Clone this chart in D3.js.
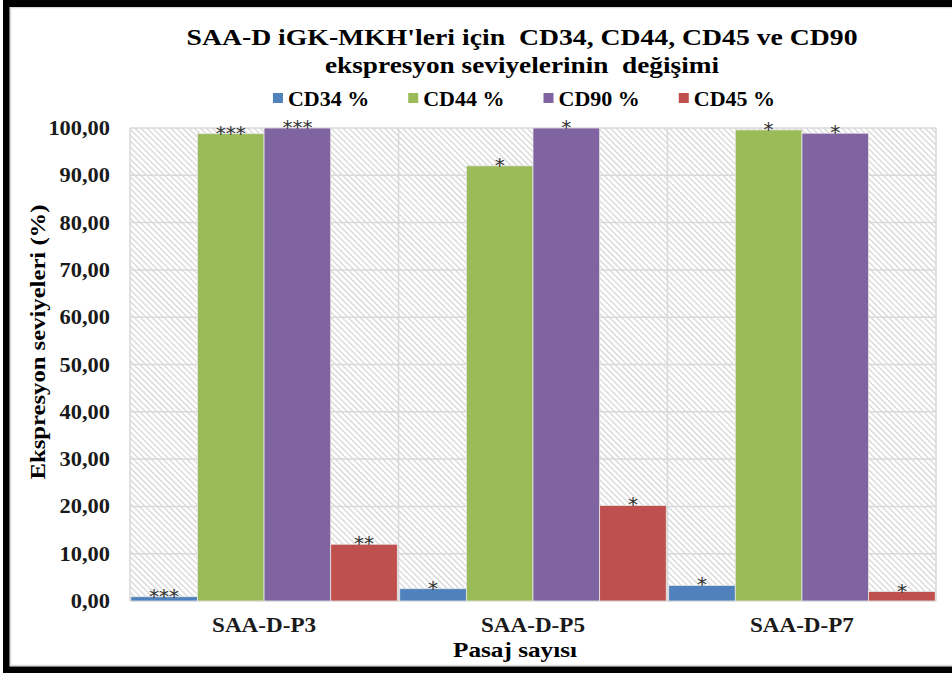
<!DOCTYPE html>
<html>
<head>
<meta charset="utf-8">
<script src="https://cdn.jsdelivr.net/npm/d3@7"></script>
<style>
  html, body { margin: 0; padding: 0; background: #fff; }
  svg { display: block; }
</style>
</head>
<body>
<svg id="chart" width="952" height="673" font-family="Liberation Serif, Times New Roman, serif" font-weight="bold"></svg>
<script>
// Passage groups on the x axis
const categories = ["SAA-D-P3", "SAA-D-P5", "SAA-D-P7"];
// Marker series, in drawing order
const seriesNames = ["CD34 %", "CD44 %", "CD90 %", "CD45 %"];
const seriesColors = ["#4F81BD", "#9BBB59", "#8064A2", "#C0504D"];
// Expression levels (%) per passage
const cd34 = [0.9, 2.6, 3.3];
const cd44 = [98.8, 92.0, 99.6];
const cd90 = [100.0, 100.0, 98.9];
const cd45 = [12.0, 20.2, 2.0];
// Significance marks above each bar
const sig34 = ["***", "*", "*"];
const sig44 = ["***", "*", "*"];
const sig90 = ["***", "*", "*"];
const sig45 = ["**", "*", "*"];
// Y axis ticks
const yTicks = [0, 10, 20, 30, 40, 50, 60, 70, 80, 90, 100];

const titleLines = ["SAA-D iGK-MKH'leri için  CD34, CD44, CD45 ve CD90", "ekspresyon seviyelerinin  değişimi"];
const yTitle = "Ekspresyon seviyeleri (%)";
const xTitle = "Pasaj sayısı";

const seriesValues = [cd34, cd44, cd90, cd45];
const seriesSig = [sig34, sig44, sig90, sig45];

const svg = d3.select("#chart");
const W = 952, H = 673;

// Frame
svg.append("rect").attr("x", 0).attr("y", 0).attr("width", W).attr("height", H).attr("fill", "#fff");
svg.append("rect").attr("x", 10.5).attr("y", 7.5).attr("width", W + 10).attr("height", 658)
  .attr("fill", "none").attr("stroke", "#d9d9d9").attr("stroke-width", 1.5);
svg.append("rect").attr("x", 3).attr("y", 0).attr("width", 6.5).attr("height", H).attr("fill", "#000");
svg.append("rect").attr("x", 3).attr("y", 0).attr("width", W).attr("height", 7).attr("fill", "#000");
svg.append("rect").attr("x", 3).attr("y", 666.5).attr("width", W).attr("height", 7).attr("fill", "#000");

// Plot area
const plot = { left: 130, right: 936, top: 128, bottom: 601 };

const x0 = d3.scaleBand().domain(categories).range([plot.left, plot.right])
  .paddingInner(0.009).paddingOuter(0.003);
const x1 = d3.scaleBand().domain(seriesNames).range([0, x0.bandwidth()]).padding(0);
const y = d3.scaleLinear().domain([0, 100]).range([plot.bottom, plot.top]);

// Hatched background
const defs = svg.append("defs");
const pat = defs.append("pattern").attr("id", "hatch").attr("patternUnits", "userSpaceOnUse")
  .attr("width", 4.2).attr("height", 4.2).attr("patternTransform", "rotate(-45)");
pat.append("rect").attr("width", 4.2).attr("height", 4.2).attr("fill", "#fff");
pat.append("rect").attr("x", 0).attr("y", 0).attr("width", 1.3).attr("height", 4.2).attr("fill", "#d6d6d6");

svg.append("rect").attr("x", plot.left).attr("y", plot.top)
  .attr("width", plot.right - plot.left).attr("height", plot.bottom - plot.top)
  .attr("fill", "url(#hatch)");

// Gridlines
svg.append("g").selectAll("line").data(yTicks).join("line")
  .attr("x1", plot.left).attr("x2", plot.right)
  .attr("y1", d => y(d)).attr("y2", d => y(d))
  .attr("stroke", "#d9d9d9").attr("stroke-width", 1.5);

const step = x0.step();
const bounds = [plot.left].concat(categories.map(c => x0(c) + x0.bandwidth() + (step - x0.bandwidth()) / 2));
bounds[bounds.length - 1] = plot.right;
svg.append("g").selectAll("line").data(bounds).join("line")
  .attr("x1", d => d).attr("x2", d => d)
  .attr("y1", plot.top).attr("y2", plot.bottom)
  .attr("stroke", "#d9d9d9").attr("stroke-width", 1.5);

// Bars
const barData = [];
categories.forEach((c, i) => {
  seriesNames.forEach((s, j) => {
    barData.push({ cat: c, series: s, value: seriesValues[j][i], sig: seriesSig[j][i], color: seriesColors[j] });
  });
});

svg.append("g").selectAll("rect").data(barData).join("rect")
  .attr("x", d => x0(d.cat) + x1(d.series))
  .attr("y", d => y(d.value))
  .attr("width", x1.bandwidth())
  .attr("height", d => y(0) - y(d.value))
  .attr("fill", d => d.color)
  .attr("stroke", "#e6e6e6").attr("stroke-width", 0.8);

// Significance marks
svg.append("g").selectAll("text").data(barData).join("text")
  .attr("x", d => x0(d.cat) + x1(d.series) + x1.bandwidth() / 2)
  .attr("y", d => y(d.value) + 6)
  .attr("text-anchor", "middle")
  .attr("font-family", "DejaVu Sans, sans-serif")
  .attr("font-weight", "normal")
  .attr("font-size", 20)
  .attr("fill", "#333")
  .text(d => d.sig);

// Y tick labels
const fmt = v => d3.format(".2f")(v).replace(".", ",");
svg.append("g").selectAll("text").data(yTicks).join("text")
  .attr("x", 110).attr("y", d => y(d) + 7)
  .attr("text-anchor", "end")
  .attr("font-size", 20)
  .attr("fill", "#1a1a1a")
  .text(fmt)
  .each(function () {
    const l = this.getComputedTextLength();
    d3.select(this).attr("textLength", l * 1.12).attr("lengthAdjust", "spacingAndGlyphs");
  });

// Category labels
svg.append("g").selectAll("text").data(categories).join("text")
  .attr("x", d => x0(d) + x0.bandwidth() / 2).attr("y", 632)
  .attr("text-anchor", "middle")
  .attr("font-size", 21)
  .attr("fill", "#1a1a1a")
  .attr("textLength", 104).attr("lengthAdjust", "spacingAndGlyphs")
  .text(d => d);

// Axis titles
svg.append("text").attr("x", 515).attr("y", 657).attr("text-anchor", "middle")
  .attr("font-size", 22).attr("fill", "#000")
  .attr("textLength", 124).attr("lengthAdjust", "spacingAndGlyphs")
  .text(xTitle);

svg.append("text").attr("transform", "translate(45,342) rotate(-90)")
  .attr("text-anchor", "middle").attr("font-size", 22).attr("fill", "#000")
  .attr("textLength", 275).attr("lengthAdjust", "spacingAndGlyphs")
  .text(yTitle);

// Title
const titleWidths = [671, 394];
svg.append("g").selectAll("text").data(titleLines).join("text")
  .attr("x", 522).attr("y", (d, i) => 45 + i * 28)
  .attr("text-anchor", "middle")
  .attr("font-size", 23)
  .attr("fill", "#000")
  .style("white-space", "pre")
  .attr("textLength", (d, i) => titleWidths[i]).attr("lengthAdjust", "spacingAndGlyphs")
  .text(d => d);

// Legend
const legend = svg.append("g");
const items = legend.selectAll("g").data(seriesNames).join("g");
items.append("rect").attr("width", 10).attr("height", 10).attr("y", 93)
  .attr("fill", (d, i) => seriesColors[i]);
items.append("text").attr("y", 106).attr("font-size", 22).attr("fill", "#000").text(d => d);
let lx = 0;
const gap = 39;
const pos = [];
items.each(function () {
  const t = d3.select(this).select("text").node().getComputedTextLength();
  pos.push(lx);
  lx += 15 + t + gap;
});
const total = lx - gap;
const start = 524 - total / 2;
items.each(function (d, i) {
  const g = d3.select(this);
  g.select("rect").attr("x", start + pos[i]);
  g.select("text").attr("x", start + pos[i] + 15);
});
</script>
</body>
</html>
